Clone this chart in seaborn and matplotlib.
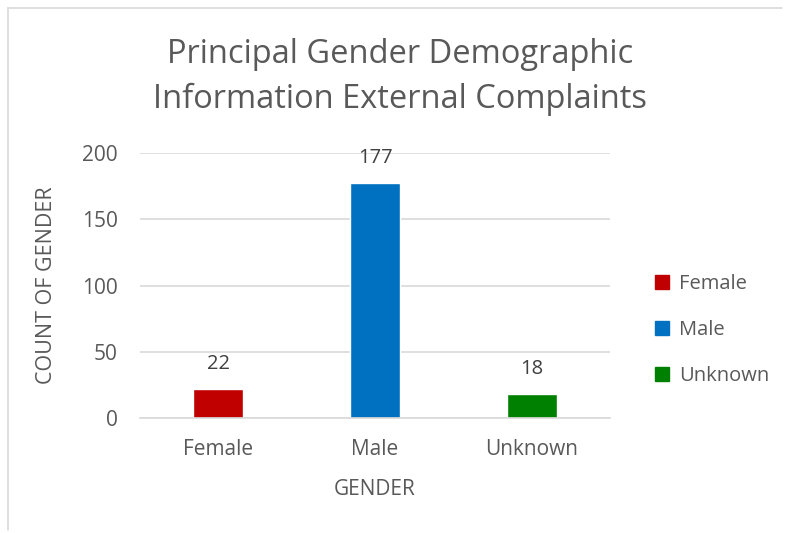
import matplotlib
matplotlib.use("Agg")
import matplotlib.pyplot as plt
from matplotlib.lines import Line2D
import pandas as pd
import seaborn as sns

# chart data
genders = ["Female", "Male", "Unknown"]
counts = [22, 177, 18]
colors = ["#C00000", "#0070C0", "#008000"]
y_ticks = [0, 50, 100, 150, 200]

sns.set_style("white")
plt.rcParams["font.family"] = ["Open Sans", "DejaVu Sans"]
text_gray = "#595959"

df = pd.DataFrame({"gender": genders, "count": counts})

fig = plt.figure(figsize=(7.88, 5.33), dpi=100)
ax = fig.add_axes([140 / 788, 1 - 418 / 533, 470 / 788, 265 / 533])

sns.barplot(data=df, x="gender", y="count", hue="gender", palette=colors,
            width=0.32, dodge=False, legend=False, ax=ax, saturation=1)

ax.set_ylim(0, 200)
ax.set_xlim(-0.5, 2.5)
ax.set_yticks(y_ticks)
ax.yaxis.grid(True, color="#D9D9D9", linewidth=1.2)
ax.set_axisbelow(True)
for s in ["top", "right", "left"]:
    ax.spines[s].set_visible(False)
ax.spines["bottom"].set_color("#D9D9D9")
ax.spines["bottom"].set_linewidth(1.2)
ax.tick_params(axis="both", length=0, labelsize=15, colors=text_gray)
ax.tick_params(axis="x", pad=15)
ax.tick_params(axis="y", pad=16)

ax.set_xlabel("GENDER", fontsize=15, color=text_gray, labelpad=14)
ax.set_ylabel("COUNT OF GENDER", fontsize=15.5, color=text_gray, labelpad=18)

for i, v in enumerate(counts):
    ax.annotate(str(v), (i, v), xytext=(0, 11), textcoords="offset points",
                ha="center", va="bottom", fontsize=14.5, color="#404040")

fig.text(400 / 788, 1 - 77 / 533,
         "Principal Gender Demographic\nInformation External Complaints",
         ha="center", va="center", fontsize=23.5, color=text_gray, linespacing=1.5)

handles = [Line2D([0], [0], marker="s", linestyle="", markersize=10,
                  markerfacecolor=c, markeredgecolor=c) for c in colors]
fig.legend(handles, genders, loc="center left", bbox_to_anchor=(634 / 788, 1 - 330 / 533),
           frameon=False, fontsize=14.5, labelcolor=text_gray, handletextpad=0.35,
           labelspacing=1.3, handlelength=1.0)

# chart area border (left and top edges)
fig.add_artist(Line2D([8 / 788, 8 / 788], [1 - 530 / 533, 1 - 8 / 533],
                      transform=fig.transFigure, color="#D9D9D9", linewidth=1.2))
fig.add_artist(Line2D([8 / 788, 782 / 788], [1 - 8 / 533, 1 - 8 / 533],
                      transform=fig.transFigure, color="#D9D9D9", linewidth=1.2))

fig.savefig("out.png", dpi=100)
